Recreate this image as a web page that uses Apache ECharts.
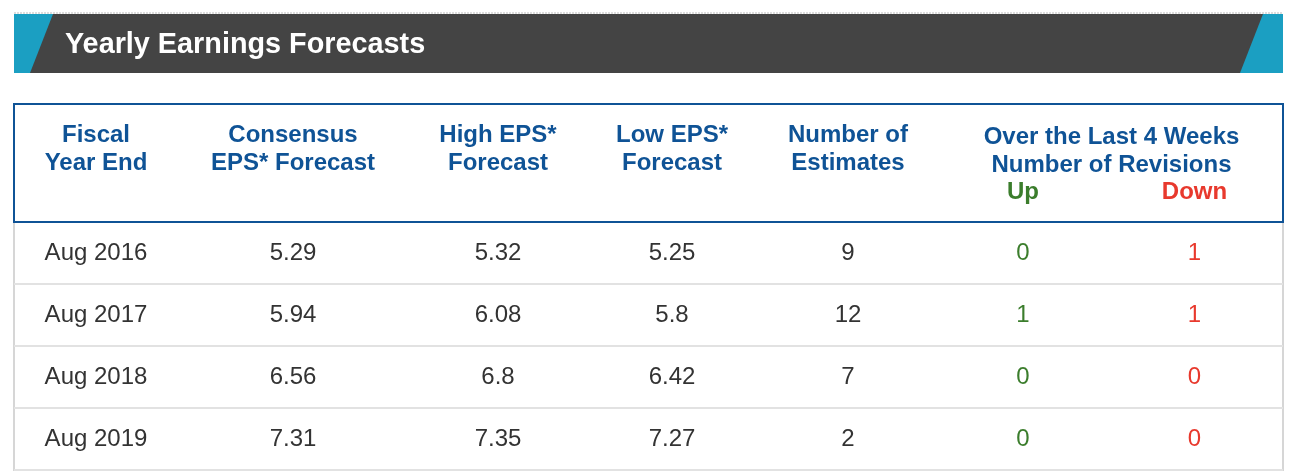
<!DOCTYPE html>
<html>
<head>
<meta charset="utf-8">
<title>Yearly Earnings Forecasts</title>
<script src="https://cdn.jsdelivr.net/npm/echarts@6.0.0/dist/echarts.min.js"></script>
<style>
  html, body { margin: 0; padding: 0; background: #fff; }
  #main { width: 1306px; height: 472px; }
</style>
</head>
<body>
<div id="main"></div>
<script>
var fiscalYears = ['Aug 2016', 'Aug 2017', 'Aug 2018', 'Aug 2019'];
var consensusEps = [5.29, 5.94, 6.56, 7.31];
var highEps = [5.32, 6.08, 6.8, 7.35];
var lowEps = [5.25, 5.8, 6.42, 7.27];
var numEstimates = [9, 12, 7, 2];
var revisionsUp = [0, 1, 0, 0];
var revisionsDown = [1, 1, 0, 0];

var cornerHeader = 'Fiscal\nYear End';
var columnHeaders = ['Consensus\nEPS* Forecast', 'High EPS*\nForecast', 'Low EPS*\nForecast', 'Number of\nEstimates'];
var revisionHeader = 'Over the Last 4 Weeks\nNumber of Revisions';
var revisionCols = ['Up', 'Down'];

window.onload = function () {
    var chart = echarts.init(document.getElementById('main'));

    var colors = {
        banner: '#444444',
        accent: '#1b9fc2',
        blue: '#0f5396',
        text: '#333333',
        up: '#3b7d2c',
        down: '#e8392d',
        rule: '#e2e2e2',
        side: '#d6d6d6'
    };
    var font = "'Liberation Sans', Arial, Helvetica, sans-serif";
    var NB = '\u00a0';

    // column widths of the table (layout only)
    var colWidths = [230, 180, 168, 184, 166, 177];
    var columns = [consensusEps, highEps, lowEps, numEstimates, revisionsUp, revisionsDown];
    var colColors = [colors.text, colors.text, colors.text, colors.text, colors.up, colors.down];

    var noBorder = { color: 'transparent', borderWidth: 0 };

    var headLabel = {
        fontFamily: font, fontSize: 24, fontWeight: 'bold',
        color: colors.blue, lineHeight: 28, lineOverflow: 'none'
    };
    var cellLabel = { fontFamily: font, fontSize: 24, color: colors.text };

    // blank last line keeps the two header lines in the upper part of the cell
    var xData = columnHeaders.map(function (h, i) {
        return { value: h + '\n' + NB, size: colWidths[i] };
    });
    xData.push({
        value: '{gap|' + NB + '}\n' + revisionHeader,
        label: { rich: { gap: { fontSize: 1, lineHeight: 16 } } },
        children: revisionCols.map(function (h, i) {
            return {
                value: h + '\n' + NB,
                size: colWidths[4 + i],
                label: { color: colColors[4 + i], lineHeight: 16 }
            };
        })
    });

    var bodyData = [];
    columns.forEach(function (col, c) {
        col.forEach(function (v, r) {
            bodyData.push({ coord: [c, r], value: String(v), label: { color: colColors[c] } });
        });
    });

    var option = {
        backgroundColor: '#fff',
        animation: false,
        title: {
            text: 'Yearly Earnings Forecasts',
            left: 65,
            top: 29,
            padding: 0,
            textStyle: { color: '#fff', fontSize: 28.8, fontWeight: 'bold', fontFamily: font, lineHeight: 32 }
        },
        graphic: [
            { type: 'line', silent: true, shape: { x1: 14, y1: 13, x2: 1283, y2: 13 },
              style: { stroke: '#bbbbbb', lineWidth: 1, lineDash: [2, 1] } },
            { type: 'rect', silent: true, z: -1, shape: { x: 14, y: 14, width: 1269, height: 59 },
              style: { fill: colors.banner } },
            { type: 'polygon', silent: true, shape: { points: [[14, 14], [53, 14], [30, 73], [14, 73]] },
              style: { fill: colors.accent } },
            { type: 'polygon', silent: true, shape: { points: [[1263, 14], [1283, 14], [1283, 73], [1240, 73]] },
              style: { fill: colors.accent } }
        ],
        grid: [
            { left: 14, right: 23, top: 222, bottom: 2, show: true,
              backgroundColor: 'transparent', borderColor: colors.side, borderWidth: 2 },
            { left: 14, right: 23, top: 104, height: 118, show: true,
              backgroundColor: 'transparent', borderColor: colors.blue, borderWidth: 2, z: 3 }
        ],
        xAxis: [
            { gridIndex: 0, type: 'value', show: false },
            { gridIndex: 1, type: 'value', show: false }
        ],
        yAxis: [
            { gridIndex: 0, type: 'category', data: fiscalYears, inverse: true,
              axisLine: { show: false }, axisTick: { show: false }, axisLabel: { show: false },
              splitLine: { show: true, interval: 0, lineStyle: { color: colors.rule, width: 2 } } },
            { gridIndex: 1, type: 'value', show: false }
        ],
        matrix: {
            left: 14, right: 23, top: 105, bottom: 2,
            backgroundStyle: noBorder,
            borderZ2: 0,
            x: {
                data: xData,
                levels: [{ levelSize: 73 }, { levelSize: 44 }],
                itemStyle: noBorder,
                label: headLabel,
                dividerLineStyle: { width: 0, color: 'transparent' }
            },
            y: {
                data: fiscalYears,
                levels: [{ levelSize: 164 }],
                itemStyle: noBorder,
                label: cellLabel,
                dividerLineStyle: { width: 0, color: 'transparent' }
            },
            corner: {
                itemStyle: noBorder,
                label: headLabel,
                data: [{ coord: [-1, [-2, -1]], mergeCells: true, value: cornerHeader + '\n' + NB }]
            },
            body: {
                itemStyle: noBorder,
                label: cellLabel,
                data: bodyData
            }
        }
    };
    chart.setOption(option);
};
</script>
</body>
</html>
